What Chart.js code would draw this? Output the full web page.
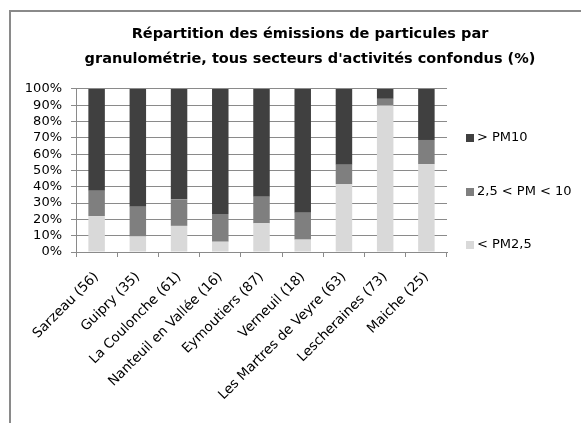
<!DOCTYPE html>
<html><head><meta charset="utf-8">
<script src="https://cdn.jsdelivr.net/npm/chart.js@4/dist/chart.umd.min.js"></script>
<style>html,body{margin:0;padding:0;background:#fff;overflow:hidden}#wrap{width:581px;height:423px;position:relative}</style>
</head><body><div id="wrap"><canvas id="c" width="581" height="423"></canvas></div>
<script>
const categories = ["Sarzeau (56)","Guipry (35)","La Coulonche (61)","Nanteuil en Vallée (16)","Eymoutiers (87)","Verneuil (18)","Les Martres de Veyre (63)","Lescheraines (73)","Maiche (25)"];
const pm25 = [22, 9.5, 16, 6.3, 17.6, 7.6, 41.5, 89.8, 53.8];
const pm25to10 = [15.5, 18.3, 16.3, 17, 16.3, 16.5, 12, 4.1, 14.9];
const pm10plus = [62.5, 72.2, 67.7, 76.7, 66.1, 75.9, 46.5, 6.1, 31.3];
const seriesLabels = ["< PM2,5", "2,5 < PM < 10", "> PM10"];
const yTicks = [0,10,20,30,40,50,60,70,80,90,100];
const titleLines = ["Répartition des émissions de particules par", "granulométrie, tous secteurs d'activités confondus (%)"];

const FONT = "'DejaVu Sans', sans-serif";
const colors = ["#d9d9d9", "#7f7f7f", "#404040"];

const borderPlugin = {
  id: 'frame',
  afterDraw(chart) {
    const ctx = chart.ctx;
    ctx.save();
    ctx.strokeStyle = '#8a8a8a';
    ctx.lineWidth = 2;
    ctx.beginPath();
    ctx.moveTo(10, 423); ctx.lineTo(10, 11); ctx.lineTo(581, 11);
    ctx.stroke();
    ctx.restore();
  }
};

const legendPlugin = {
  id: 'customLegend',
  afterDraw(chart) {
    const ctx = chart.ctx;
    const ds = chart.data.datasets;
    const x = 466, ys = [245, 192, 138];
    ctx.save();
    ctx.font = "13px " + FONT;
    ctx.textBaseline = 'middle';
    ds.forEach((d, i) => {
      ctx.fillStyle = d.backgroundColor;
      ctx.fillRect(x, ys[i] - 4, 8, 8);
      ctx.fillStyle = '#000';
      ctx.fillText(d.label, x + 11, ys[i]);
    });
    ctx.restore();
  }
};

new Chart(document.getElementById('c'), {
  type: 'bar',
  data: {
    labels: categories,
    datasets: [
      {label: seriesLabels[0], data: pm25, backgroundColor: colors[0]},
      {label: seriesLabels[1], data: pm25to10, backgroundColor: colors[1]},
      {label: seriesLabels[2], data: pm10plus, backgroundColor: colors[2]}
    ]
  },
  options: {
    responsive: false,
    animation: false,
    layout: {padding: {left: 10, right: -29, top: 0, bottom: 0}},
    datasets: {bar: {categoryPercentage: 1, barPercentage: 0.4}},
    plugins: {
      legend: {display: false},
      tooltip: {enabled: false},
      title: {
        display: true,
        text: titleLines,
        color: '#000',
        font: {family: FONT, size: 14.5, weight: 'bold', lineHeight: 1.72},
        padding: {top: 22, bottom: 17}
      }
    },
    scales: {
      x: {
        stacked: true,
        grid: {display: true, drawOnChartArea: false, drawTicks: true, tickLength: 5, color: '#8a8a8a', offset: true},
        border: {color: '#8a8a8a', width: 1},
        ticks: {color: '#000', font: {family: FONT, size: 13.5}, minRotation: 45, maxRotation: 45, autoSkip: false, padding: 12},
        afterFit(s) { s.height = 171; }
      },
      y: {
        stacked: true,
        min: 0, max: 100,
        afterBuildTicks(s) { s.ticks = yTicks.map(v => ({value: v})); },
        grid: {color: '#8a8a8a', tickLength: 5, drawTicks: true},
        border: {color: '#8a8a8a', width: 1},
        ticks: {color: '#000', font: {family: FONT, size: 13}, padding: 9, autoSkip: false, callback: v => v + '%'},
        afterFit(s) { s.width = 66; }
      },
      y2: {
        position: 'right',
        display: true,
        grid: {display: false},
        border: {display: false},
        ticks: {display: false},
        afterFit(s) { s.width = 163; }
      }
    }
  },
  plugins: [borderPlugin, legendPlugin]
});
</script></body></html>
